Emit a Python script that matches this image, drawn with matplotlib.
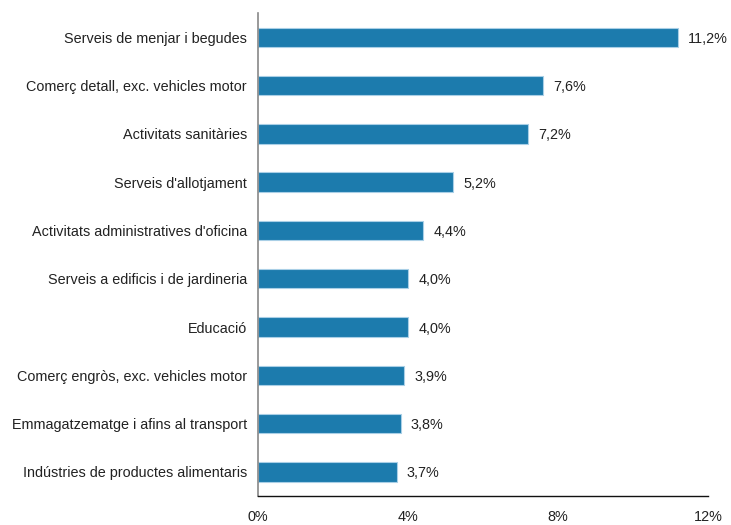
import matplotlib.pyplot as plt

sectors = [
    "Serveis de menjar i begudes",
    "Comerç detall, exc. vehicles motor",
    "Activitats sanitàries",
    "Serveis d'allotjament",
    "Activitats administratives d'oficina",
    "Serveis a edificis i de jardineria",
    "Educació",
    "Comerç engròs, exc. vehicles motor",
    "Emmagatzematge i afins al transport",
    "Indústries de productes alimentaris",
]
shares = [11.2, 7.6, 7.2, 5.2, 4.4, 4.0, 4.0, 3.9, 3.8, 3.7]
xticks = [0, 4, 8, 12]

plt.rcParams['font.family'] = ['Liberation Sans', 'DejaVu Sans']

fig = plt.figure(figsize=(7.31, 5.25), dpi=100)
ax = fig.add_axes([0.353, 0.0552, 0.6155, 0.9198])

ypos = list(range(len(sectors)))
ax.barh(ypos, shares, height=0.4, color='#1c7bad', edgecolor='#a9cfe6', linewidth=0.8)

# etiquetes de valor amb coma decimal
for y, v in zip(ypos, shares):
    ax.text(v + 0.27, y, f"{v:.1f}%".replace('.', ','), va='center_baseline', ha='left',
            fontsize=10.4, color='#222222')

ax.set_yticks(ypos)
ax.set_yticklabels(sectors, fontsize=10.4, color='#222222')
ax.set_ylim(len(sectors) - 0.5, -0.5)
ax.set_xlim(0, 12)
ax.set_xticks(xticks)
ax.set_xticklabels([f"{t}%" for t in xticks], fontsize=10.4, color='#222222')
ax.tick_params(axis='both', length=0)
ax.tick_params(axis='y', pad=8)
ax.tick_params(axis='x', pad=10)

ax.spines['top'].set_visible(False)
ax.spines['right'].set_visible(False)
ax.spines['left'].set_color('#888888')
ax.spines['left'].set_linewidth(1.2)
ax.spines['bottom'].set_color('#111111')
ax.spines['bottom'].set_linewidth(1.0)

fig.savefig("out.png", dpi=100)
